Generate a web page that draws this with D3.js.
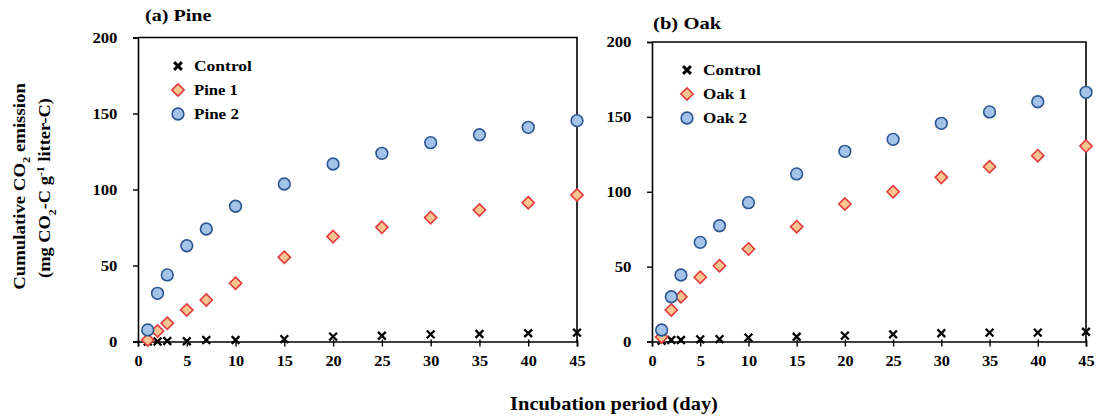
<!DOCTYPE html>
<html><head><meta charset="utf-8">
<script src="https://cdn.jsdelivr.net/npm/d3@7"></script>
<style>
html,body{margin:0;padding:0;background:#fff;}
svg text{font-family:"Liberation Serif","Times New Roman",serif;font-weight:bold;fill:#000;}
</style></head>
<body><svg id="c" width="1096" height="416"></svg>
<script>
// ---- data ----
const days = [1, 2, 3, 5, 7, 10, 15, 20, 25, 30, 35, 40, 45];
const pineControl = [0, 0, 0.3, 0.2, 1, 1, 1.6, 3.2, 3.8, 4.7, 4.9, 5.4, 5.8];
const pine1 = [1, 6.9, 12, 20.7, 27.3, 38.3, 55.4, 69, 75.1, 81.5, 86.5, 91.3, 96.4];
const pine2 = [7.6, 31.7, 43.8, 63, 74, 89, 103.6, 116.8, 123.8, 130.8, 136, 140.9, 145.3];
const oakControl = [0.5, 1, 1, 1.4, 1.6, 2.6, 3.2, 3.9, 4.8, 5.5, 5.9, 5.9, 6.5];
const oak1 = [3, 21, 29.9, 42.9, 50.6, 61.8, 76.7, 91.8, 100, 109.6, 116.7, 124.1, 130.5];
const oak2 = [7.7, 29.9, 44.4, 66.2, 77.3, 92.7, 111.9, 127, 135, 145.7, 153.3, 160.1, 166.4];
const xTicks = [0, 5, 10, 15, 20, 25, 30, 35, 40, 45];
const yTicks = [0, 50, 100, 150, 200];
const pineNames = ["Control", "Pine 1", "Pine 2"];
const oakNames = ["Control", "Oak 1", "Oak 2"];
const panelTitles = ["(a) Pine", "(b) Oak"];
const xTitle = "Incubation period (day)";

const svg = d3.select("#c");

// custom symbols
const symCross = {draw(ctx, size){const r=Math.sqrt(size)/2; ctx.moveTo(-r,-r); ctx.lineTo(r,r); ctx.moveTo(-r,r); ctx.lineTo(r,-r);}};
const symDiamond = {draw(ctx, size){const r=Math.sqrt(size)/2; ctx.moveTo(0,-r); ctx.lineTo(r,0); ctx.lineTo(0,r); ctx.lineTo(-r,0); ctx.closePath();}};
const styles = [
  {type: symCross, size: 60, fill: "none", stroke: "#000", sw: 2.3},
  {type: symDiamond, size: 150, fill: "#fbc592", stroke: "#e03a3a", sw: 1.6},
  {type: d3.symbolCircle, size: 108, fill: "#a3c3e9", stroke: "#2d5592", sw: 1.6}
];

function label(parent, x, y, str, o){
  const g = parent.append("g").attr("transform", `translate(${x},${y}) rotate(${o.rotate||0})`);
  const t = g.append("text").attr("font-size", o.size).attr("text-anchor", o.anchor||"start");
  if (Array.isArray(str)) {
    str.forEach(p => {
      const ts = t.append("tspan").text(p.t);
      if (p.sub) ts.attr("font-size", o.size*0.65).attr("baseline-shift", "sub");
      if (p.sup) ts.attr("font-size", o.size*0.65).attr("baseline-shift", "super");
    });
  } else t.text(str);
  if (o.width) {
    const w = t.node().getBBox().width;
    t.attr("transform", `scale(${o.width / w},1)`);
  }
  return t;
}

function panel(p){
  const x = d3.scaleLinear().domain([0, 45]).range([p.x0, p.x1]);
  const y = d3.scaleLinear().domain([0, 200]).range([p.y0, p.y1]);
  const g = svg.append("g");
  // frame (top + right)
  g.append("path").attr("d", `M${x(0)},${y(200)}H${x(45)}V${y(0)}`)
    .attr("fill", "none").attr("stroke", "#000").attr("stroke-width", 1.6);
  const ax = g.append("g").attr("transform", `translate(0,${y(0)})`)
    .call(d3.axisBottom(x).tickValues(xTicks).tickSize(5).tickPadding(9));
  ax.selectAll(".tick line").attr("y1", -2);
  const ay = g.append("g").attr("transform", `translate(${x(0)},0)`)
    .call(d3.axisLeft(y).tickValues(yTicks).tickSize(5).tickPadding(14));
  [ax, ay].forEach(a => {
    a.select(".domain").attr("stroke-width", 1.6).attr("stroke", "#000");
    a.selectAll(".tick line").attr("stroke-width", 1.4).attr("stroke", "#000");
    a.selectAll(".tick text").attr("font-size", 15.5).attr("font-family", null)
      .attr("font-weight", "bold").attr("fill", "#000");
  });
  ax.selectAll(".tick text").attr("transform", "scale(1.05,1)");
  ay.selectAll(".tick text").attr("transform", "scale(1.08,1)");

  p.series.forEach((s, i) => {
    const st = styles[i];
    const sym = d3.symbol().type(st.type).size(st.size);
    g.append("g").selectAll("path").data(days.map((d, j) => [d, s[j]])).join("path")
      .attr("transform", d => `translate(${x(d[0])},${y(d[1])})`)
      .attr("d", sym()).attr("fill", st.fill).attr("stroke", st.stroke).attr("stroke-width", st.sw);
  });

  // legend
  p.names.forEach((n, i) => {
    const st = styles[i];
    const cy = p.legY + i * 24;
    g.append("path").attr("transform", `translate(${p.legX},${cy})`)
      .attr("d", d3.symbol().type(st.type).size(st.size)())
      .attr("fill", st.fill).attr("stroke", st.stroke).attr("stroke-width", st.sw + (i === 0 ? 0.6 : 0));
    label(g, p.legX + 16, cy + 5, n, {size: 15, width: p.legW[i]});
  });
  label(g, p.tx, p.ty, p.title, {size: 17, width: p.tw});
}

panel({x0: 138, x1: 577, y0: 341.5, y1: 37.5, series: [pineControl, pine1, pine2], names: pineNames,
  legX: 178, legY: 66, legW: [58, 44, 45], title: panelTitles[0], tx: 145, ty: 21, tw: 67});
panel({x0: 652, x1: 1086, y0: 341.5, y1: 42, series: [oakControl, oak1, oak2], names: oakNames,
  legX: 687, legY: 70, legW: [58, 44, 44], title: panelTitles[1], tx: 653, ty: 29, tw: 69});

// axis titles
label(svg, 614, 410, xTitle, {size: 18, anchor: "middle", width: 208});
label(svg, 25, 186.5, [{t: "Cumulative CO"}, {t: "2", sub: true}, {t: " emission"}],
  {size: 16, anchor: "middle", rotate: -90, width: 207});
label(svg, 50, 188, [{t: "(mg CO"}, {t: "2", sub: true}, {t: "-C g"}, {t: "-1", sup: true}, {t: " litter-C)"}],
  {size: 16, anchor: "middle", rotate: -90, width: 180});
</script></body></html>
